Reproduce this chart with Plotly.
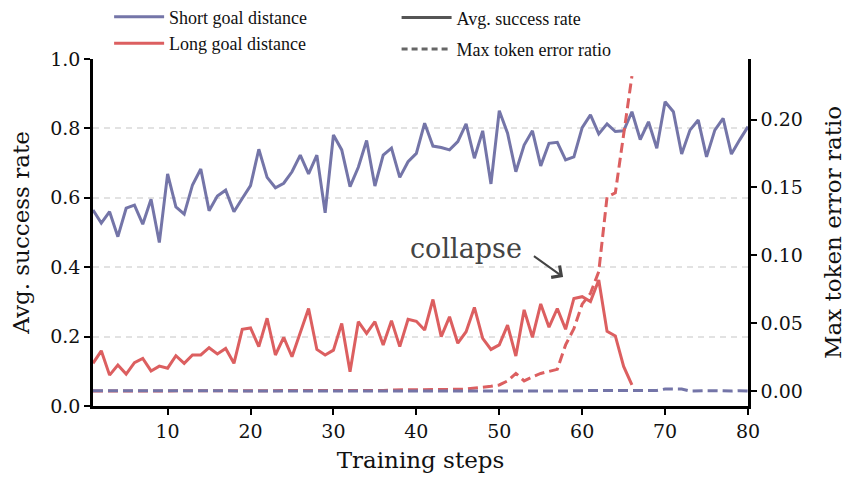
import plotly.graph_objects as go

steps = list(range(1, 81))

short_success = [0.565, 0.527, 0.56, 0.488, 0.57, 0.579, 0.524, 0.596, 0.471, 0.669,
                 0.574, 0.553, 0.637, 0.683, 0.563, 0.605, 0.622, 0.56, 0.598, 0.635,
                 0.74, 0.659, 0.629, 0.642, 0.675, 0.723, 0.669, 0.723, 0.557, 0.781,
                 0.738, 0.632, 0.688, 0.765, 0.634, 0.723, 0.743, 0.659, 0.704, 0.728,
                 0.815, 0.749, 0.745, 0.738, 0.762, 0.813, 0.714, 0.793, 0.64, 0.851,
                 0.786, 0.675, 0.752, 0.793, 0.692, 0.757, 0.76, 0.709, 0.718, 0.802,
                 0.839, 0.784, 0.813, 0.791, 0.793, 0.848, 0.768, 0.819, 0.743, 0.877,
                 0.848, 0.726, 0.795, 0.824, 0.718, 0.795, 0.829, 0.726, 0.767, 0.805]

long_success = [0.123, 0.159, 0.089, 0.118, 0.092, 0.125, 0.137, 0.101, 0.115, 0.109,
                0.145, 0.123, 0.147, 0.147, 0.168, 0.15, 0.166, 0.123, 0.221, 0.225,
                0.171, 0.253, 0.147, 0.198, 0.142, 0.209, 0.281, 0.163, 0.147, 0.161,
                0.238, 0.099, 0.243, 0.209, 0.243, 0.176, 0.246, 0.171, 0.25, 0.244,
                0.219, 0.307, 0.2, 0.257, 0.181, 0.214, 0.284, 0.195, 0.163, 0.176,
                0.233, 0.144, 0.277, 0.198, 0.294, 0.227, 0.281, 0.221, 0.31, 0.315,
                0.301, 0.363, 0.215, 0.202, 0.114, 0.061]

short_error = [0.0002] * 34 + [0.0, 0.0, 0.0, -0.0003, 0.0, 0.0, 0.0, 0.0, 0.0, 0.0,
               0.0, 0.0, 0.0, 0.0, 0.0, -0.0002, 0.0, -0.0003, -0.0003, 0.0,
               0.0, 0.0, 0.0, 0.0, 0.0003, 0.0003, 0.0003, 0.0, 0.0003, 0.0003,
               0.0003, 0.0003, 0.0, 0.0005, 0.0005, 0.0015, 0.0015, 0.0015, 0.0, 0.0003,
               0.0003, 0.0003, 0.0, 0.0, 0.0003, 0.0, 0.0]

long_error = [0.0] * 34 + [0.0005, 0.0005, 0.0008, 0.0008, 0.001, 0.001, 0.0012, 0.0012,
              0.0012, 0.0012, 0.0013, 0.0015, 0.002, 0.0025, 0.0035, 0.0045,
              0.0075, 0.013, 0.0075, 0.0105, 0.013, 0.0145, 0.016, 0.034, 0.046, 0.064,
              0.072, 0.088, 0.143, 0.146, 0.188, 0.232]

BLUE = "#7475a8"
RED = "#dc5f60"
SERIF = "DejaVu Serif"
LEG_FONT = "Liberation Serif"

fig = go.Figure()

fig.add_trace(go.Scatter(x=steps[:len(long_error)], y=long_error, yaxis="y2", mode="lines",
                         line=dict(color=RED, width=3, dash="10px,5px"), showlegend=False))
fig.add_trace(go.Scatter(x=steps, y=short_error, yaxis="y2", mode="lines",
                         line=dict(color=BLUE, width=3, dash="10px,5px"), showlegend=False))
fig.add_trace(go.Scatter(x=steps, y=short_success, mode="lines", name="Short goal distance",
                         line=dict(color=BLUE, width=3), legend="legend"))
fig.add_trace(go.Scatter(x=steps[:len(long_success)], y=long_success, mode="lines",
                         name="Long goal distance", line=dict(color=RED, width=3),
                         legend="legend"))
fig.add_trace(go.Scatter(x=[None], y=[None], mode="lines", name="Avg. success rate",
                         line=dict(color="#555555", width=3), legend="legend2",
                         legendgroup="a"))
fig.add_trace(go.Scatter(x=[None], y=[None], mode="lines", name="Max token error ratio",
                         line=dict(color="#666666", width=3, dash="6px,4px"),
                         legend="legend2", legendgroup="b"))

fig.add_annotation(x=46.0, y=0.455, xref="x", yref="y", text="collapse", showarrow=False,
                   font=dict(family=SERIF, size=27, color="#444444"))
fig.add_annotation(x=57.7, y=0.372, ax=54.0, ay=0.435, xref="x", yref="y", axref="x",
                   ayref="y", text="", showarrow=True, arrowhead=4, arrowsize=1.4,
                   arrowwidth=2, arrowcolor="#444444")

axis_common = dict(showline=True, linecolor="black", linewidth=2.5, ticks="outside",
                   ticklen=6, tickwidth=2, tickcolor="black",
                   tickfont=dict(family=SERIF, size=19, color="#111111"))

fig.update_layout(
    width=857, height=478,
    margin=dict(l=85, r=117, t=51, b=80, autoexpand=False),
    plot_bgcolor="white", paper_bgcolor="white",
    xaxis=dict(range=[1, 80], tickvals=[10, 20, 30, 40, 50, 60, 70, 80], showgrid=False,
               zeroline=False,
               title=dict(text="Training steps", font=dict(family=SERIF, size=23, color="#111111"),
                          standoff=12),
               **axis_common),
    yaxis=dict(range=[0, 1], tickvals=[0, 0.2, 0.4, 0.6, 0.8, 1.0], tickformat=".1f",
               showgrid=True, gridcolor="#e2e2e2", gridwidth=1.5, griddash="6px,5px",
               zeroline=False,
               title=dict(text="Avg. success rate", font=dict(family=SERIF, size=23, color="#111111"),
                          standoff=25),
               **axis_common),
    yaxis2=dict(range=[-0.011, 0.2446], overlaying="y", side="right",
                tickvals=[0, 0.05, 0.1, 0.15, 0.2], tickformat=".2f", showgrid=False,
                zeroline=False,
                title=dict(text="Max token error ratio", font=dict(family=SERIF, size=23, color="#111111"),
                           standoff=24),
                **axis_common),
    legend=dict(x=0.0246, y=1.174, xref="paper", yref="paper", xanchor="left", yanchor="top",
                bgcolor="rgba(0,0,0,0)", font=dict(family=LEG_FONT, size=18, color="#111111"),
                itemwidth=50, tracegroupgap=0),
    legend2=dict(x=0.4635, y=1.172, xref="paper", yref="paper", xanchor="left", yanchor="top",
                 bgcolor="rgba(0,0,0,0)", font=dict(family=LEG_FONT, size=18, color="#111111"),
                 itemwidth=50, tracegroupgap=5),
)

fig.write_html("out.html")
